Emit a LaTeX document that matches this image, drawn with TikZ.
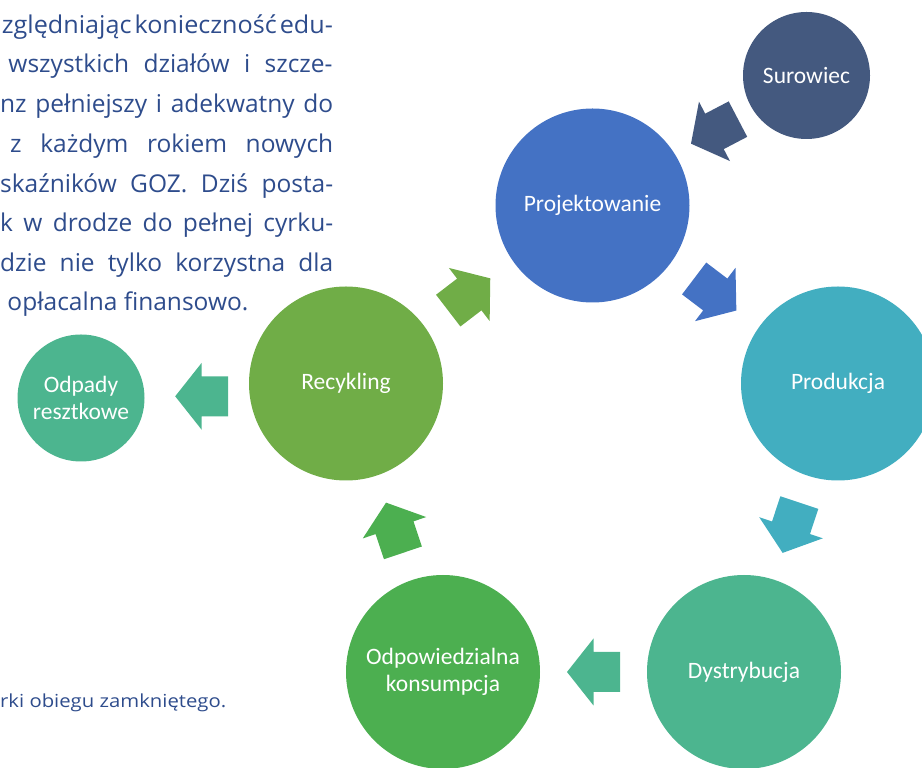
\documentclass[tikz,border=0pt]{standalone}
\usepackage{fontspec}
\usepackage{graphicx}
\setmainfont{Open Sans}
\newfontfamily\calfont{Carlito}
\usetikzlibrary{calc}
\definecolor{txtblue}{HTML}{2E4C8C}
\definecolor{csur}{HTML}{44597F}
\definecolor{cproj}{HTML}{4472C4}
\definecolor{cprod}{HTML}{42AEC0}
\definecolor{cdys}{HTML}{4CB58F}
\definecolor{codp}{HTML}{4CAF50}
\definecolor{crec}{HTML}{70AD47}
\definecolor{cres}{HTML}{4CB58F}
\tikzset{
  stage/.style={circle, fill=#1, draw=none, minimum size=194pt, inner sep=0pt,
    text=white, font=\calfont\fontsize{23.5}{27.5}\selectfont, align=center},
  bodytext/.style={anchor=base west, inner sep=0pt, text=txtblue,
    font=\fontsize{24.5}{30}\selectfont},
}
\newcommand\jline[2]{\sbox0{#2}\ifdim\wd0>#1\relax\resizebox{#1}{\height}{#2}\else\makebox[#1][s]{#2}\fi}
\newcommand\flowarrow[3]{\fill[#3, shift={#1}, rotate=#2] (-26.5,-20) -- (0,-20) -- (0,-33.5) -- (26.5,0) -- (0,33.5) -- (0,20) -- (-26.5,20) -- cycle;}
\begin{document}
\begin{tikzpicture}[x=1pt,y=1pt]
\useasboundingbox (0,0) rectangle (922,768);
\clip (0,0) rectangle (922,768);
% circles
\node[stage=csur, minimum size=127pt] (sur) at (806.5,692.5) {Surowiec};
\node[stage=cproj] (proj) at (592.5,562.5) {Projektowanie};
\node[stage=cprod] (prod) at (838,384.5) {Produkcja};
\node[stage=cdys] (dys) at (744,96) {Dystrybucja};
\node[stage=codp] (odp) at (443,96) {Odpowiedzialna\\konsumpcja};
\node[stage=crec] (rec) at (346,384.5) {Recykling};
\node[stage=cres, minimum size=127pt] (res) at (81,370) {Odpady\\resztkowe};
% arrows
\flowarrow{($(sur)!0.43!(proj)$)}{207.6}{csur}
\flowarrow{($(proj)!0.5!(prod)$)}{-37.2}{cproj}
\flowarrow{($(prod)!0.5!(dys)$)}{251.6}{cprod}
\flowarrow{($(dys)!0.5!(odp)$)}{180}{cdys}
\flowarrow{($(odp)!0.5!(rec)$)}{108.6}{codp}
\flowarrow{($(rec)!0.5!(proj)$)}{37.5}{crec}
\flowarrow{(201.7,371.7)}{180}{cres}
% text
\node[bodytext] (l1) at (1.7,734.7) {\resizebox{331pt}{\height}{zględniając\kern3pt konieczność\kern3pt edu-}};
\node[bodytext] (l2) at (8.3,695.3) {\jline{324pt}{wszystkich działów i szcze-}};
\node[bodytext] (l3) at (0,655.3) {\jline{333pt}{nz pełniejszy i adekwatny do}};
\node[bodytext] (l4) at (10,615) {\jline{323pt}{z każdym rokiem nowych}};
\node[bodytext] (l5) at (0,575) {\jline{333pt}{skaźników GOZ. Dziś posta-}};
\node[bodytext] (l6) at (0,536) {\jline{333pt}{k w drodze do pełnej cyrku-}};
\node[bodytext] (l7) at (0,496.3) {\jline{333pt}{dzie nie tylko korzystna dla}};
\node[bodytext] (l8) at (7.3,457) {opłacalna finansowo.};
\node[bodytext, font=\fontsize{18}{22}\selectfont] (l9) at (0,60.3) {\resizebox{226pt}{\height}{rki obiegu zamkniętego.}};
\end{tikzpicture}
\end{document}
